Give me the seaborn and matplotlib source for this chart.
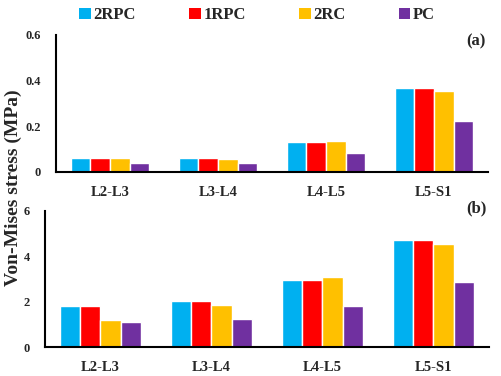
import pandas as pd
import seaborn as sns
import matplotlib.pyplot as plt
from matplotlib.patches import Patch

sns.set_style("white")
plt.rcParams['font.family'] = ['Liberation Serif', 'DejaVu Serif']
plt.rcParams['font.weight'] = 'bold'

levels = ['L2-L3', 'L3-L4', 'L4-L5', 'L5-S1']
models = ['2RPC', '1RPC', '2RC', 'PC']
colors = ['#00B0F0', '#FF0000', '#FFC000', '#7030A0']

# (a) values
a_2rpc = [0.063, 0.063, 0.133, 0.368]
a_1rpc = [0.063, 0.063, 0.133, 0.368]
a_2rc = [0.062, 0.057, 0.134, 0.356]
a_pc = [0.038, 0.038, 0.082, 0.223]

# (b) values
b_2rpc = [1.83, 2.05, 2.96, 4.70]
b_1rpc = [1.81, 2.05, 2.96, 4.70]
b_2rc = [1.18, 1.84, 3.08, 4.54]
b_pc = [1.11, 1.22, 1.79, 2.85]


def to_long(series):
    rows = []
    for m, vals in zip(models, series):
        for lv, v in zip(levels, vals):
            rows.append({'level': lv, 'model': m, 'stress': v})
    return pd.DataFrame(rows)


df_a = to_long([a_2rpc, a_1rpc, a_2rc, a_pc])
df_b = to_long([b_2rpc, b_1rpc, b_2rc, b_pc])

fig = plt.figure(figsize=(5.02, 3.76), dpi=100)
ax1 = fig.add_axes([0.1116, 0.5426, 0.8604, 0.3644])
ax2 = fig.add_axes([0.0896, 0.077, 0.8844, 0.3620])


def draw(ax, df, ymax, yticks, tag, tag_y):
    sns.barplot(data=df, x='level', y='stress', hue='model', palette=colors,
                width=0.73, saturation=1, ax=ax, legend=False)
    ax.set_xlim(-0.5, 3.5)
    ax.set_ylim(0, ymax)
    ax.set_yticks(yticks)
    ax.set_yticklabels([f'{t:g}' for t in yticks])
    ax.set_xlabel('')
    ax.set_ylabel('')
    for s in ['top', 'right']:
        ax.spines[s].set_visible(False)
    for s in ['left', 'bottom']:
        ax.spines[s].set_color('black')
        ax.spines[s].set_linewidth(1.5)
    ax.tick_params(axis='x', length=0, labelsize=10.5, pad=10)
    ax.tick_params(axis='y', length=0, labelsize=9, pad=11)
    for lab in ax.get_xticklabels() + ax.get_yticklabels():
        lab.set_fontweight('bold')
    ax.text(0.995, tag_y, tag, transform=ax.transAxes, ha='right', va='center',
            fontsize=12, fontweight='bold')


draw(ax1, df_a, 0.6, [0, 0.2, 0.4, 0.6], '(a)', 0.95)
draw(ax2, df_b, 6, [0, 2, 4, 6], '(b)', 1.02)

fig.text(0.026, 0.5, 'Von-Mises stress (MPa)', rotation=90, ha='center',
         va='center', fontsize=14, fontweight='bold')

handles = [Patch(facecolor=c, edgecolor='none') for c in colors]
fig.legend(handles, models, loc='upper center', bbox_to_anchor=(0.512, 1.02),
           ncol=4, frameon=False, handlelength=0.7, handleheight=0.7,
           handletextpad=0.15, columnspacing=3.2,
           prop={'weight': 'bold', 'size': 12})

fig.savefig('out.png', dpi=100)
